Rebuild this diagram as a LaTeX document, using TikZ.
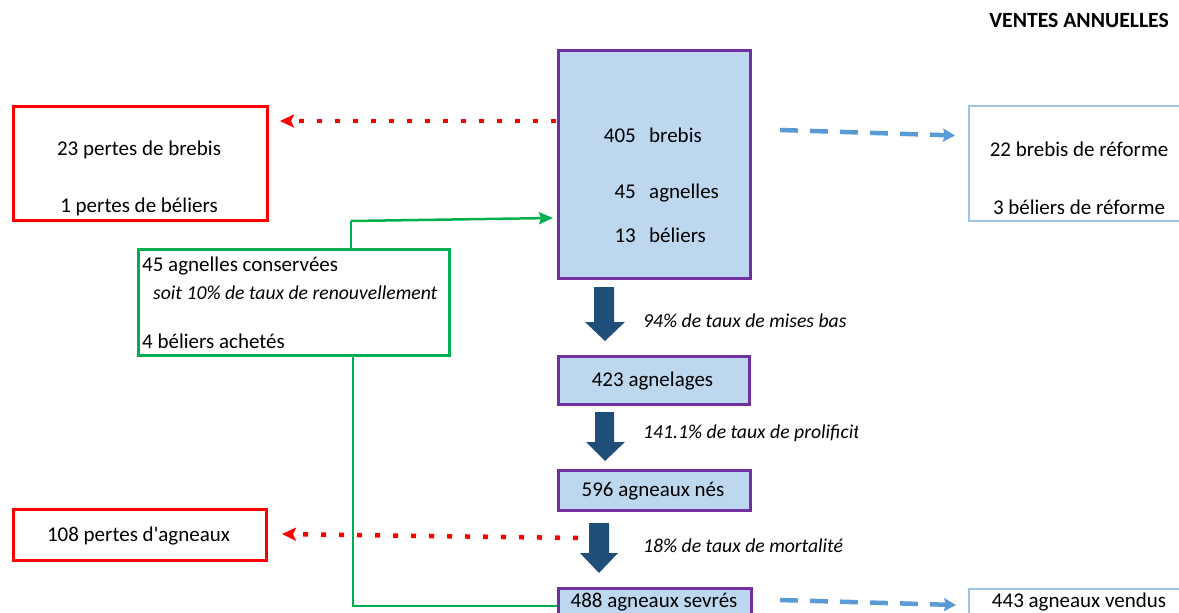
\documentclass[tikz,border=0pt]{standalone}
\usepackage{fontspec}
\setmainfont{Carlito}[Ligatures=TeXOff]
\usetikzlibrary{arrows.meta}
\definecolor{lossred}{HTML}{FF0000}
\definecolor{flockpurple}{HTML}{7030A0}
\definecolor{flockfill}{HTML}{BDD7EE}
\definecolor{salesblue}{HTML}{9DC3E6}
\definecolor{salesarrow}{HTML}{5B9BD5}
\definecolor{keepgreen}{HTML}{00B050}
\definecolor{stepblue}{HTML}{1F4E79}
\tikzset{
  txt/.style={inner sep=0pt, font=\fontsize{21}{25}\selectfont},
  itxt/.style={inner sep=0pt, font=\fontsize{19.7}{24}\selectfont\itshape},
  lossbox/.style={draw=lossred, line width=2.5pt, inner sep=0pt, anchor=north west},
  flockbox/.style={draw=flockpurple, fill=flockfill, line width=2.5pt, inner sep=0pt, anchor=north west},
  salebox/.style={draw=salesblue, line width=2pt, inner sep=0pt, anchor=north west},
  keepbox/.style={draw=keepgreen, line width=2.5pt, inner sep=0pt, anchor=north west},
  lossarrow/.style={draw=lossred, line width=4.5pt, dash pattern=on 5pt off 13pt,
    -{Stealth[length=14pt,width=13pt,inset=3pt]}},
  salearrow/.style={draw=salesarrow, line width=4.5pt, dash pattern=on 18pt off 12pt,
    -{Stealth[length=12pt,width=13pt,inset=2pt]}},
  keepline/.style={draw=keepgreen, line width=2.5pt},
  stepshape/.style={fill=stepblue},
}
\begin{document}
\begin{tikzpicture}[x=1pt,y=-1pt]
\useasboundingbox (0,0) rectangle (1179,613);
\clip (0,0) rectangle (1179,613);

% heading
\node[txt, font=\fontsize{21.7}{25}\selectfont\bfseries, anchor=mid east] (ventes) at (1169,25) {VENTES ANNUELLES};

% flock box
\node[flockbox, minimum width=192pt, minimum height=228pt] (flock) at (557,49) {};
\node[txt, anchor=mid east] (n405) at (636,140) {405};
\node[txt, anchor=mid west] (w405) at (649,140) {brebis};
\node[txt, anchor=mid east] (n45) at (636,196) {45};
\node[txt, anchor=mid west] (w45) at (649,196) {agnelles};
\node[txt, anchor=mid east] (n13) at (636,240) {13};
\node[txt, anchor=mid west] (w13) at (649,240) {béliers};

% adult losses
\node[lossbox, minimum width=254pt, minimum height=114pt] (losses) at (12,105) {};
\node[txt] (lossewes) at (139,150) {23 pertes de brebis};
\node[txt] (lossrams) at (139,207) {1 pertes de béliers};

% culled animals sold
\node[salebox, minimum width=230pt, minimum height=115pt] (cull) at (968,105) {};
\node[txt] (cullewes) at (1079,149) {22 brebis de réforme};
\node[txt] (cullrams) at (1079,207) {3 béliers de réforme};

% replacement
\node[keepbox, minimum width=311pt, minimum height=106pt] (keep) at (137,248) {};
\node[txt, anchor=mid west] (keep1) at (142,269) {45 agnelles conservées};
\node[itxt, anchor=mid west] (keep2) at (153,297) {soit 10\% de taux de renouvellement};
\node[txt, anchor=mid west] (keep3) at (142,346) {4 béliers achetés};

% production chain
\node[flockbox, minimum width=191pt, minimum height=48pt] (lambings) at (557,355) {};
\node[txt] (tlambings) at (652.5,381) {423 agnelages};
\node[flockbox, minimum width=192pt, minimum height=40pt] (born) at (557,469) {};
\node[txt] (tborn) at (653,491) {596 agneaux nés};
\node[flockbox, minimum width=193pt, minimum height=40pt] (weaned) at (557,587) {};
\node[txt] (tweaned) at (654,602.5) {488 agneaux sevrés};

% lamb losses and sales
\node[lossbox, minimum width=253pt, minimum height=51pt] (lamblosses) at (12,508) {};
\node[txt] (tlamblosses) at (138.5,536) {108 pertes d'agneaux};
\node[salebox, minimum width=230pt, minimum height=40pt] (sold) at (968,588) {};
\node[txt] (tsold) at (1079,602.5) {443 agneaux vendus};

% step arrows
\fill[stepshape] (594,287) -- (614,287) -- (614,322) -- (625,322) -- (605,341) -- (585,322) -- (594,322) -- cycle;
\fill[stepshape] (595,412) -- (614,412) -- (614,442) -- (625,442) -- (605,461) -- (586,442) -- (595,442) -- cycle;
\fill[stepshape] (589,523) -- (609,523) -- (609,553) -- (618,553) -- (599,573) -- (580,553) -- (589,553) -- cycle;

\node[itxt, anchor=mid west] (rate1) at (643,325) {94\% de taux de mises bas};
\begin{scope}
  \clip (640,415) rectangle (857,455);
  \node[itxt, anchor=mid west] (rate2) at (643,436) {141.1\% de taux de prolificité};
\end{scope}
\node[itxt, anchor=mid west] (rate3) at (643,550) {18\% de taux de mortalité};

% connectors
\coordinate (lossA) at (556,121);
\coordinate (lossB) at (280,121);
\draw[lossarrow] (lossA) -- (lossB);
\coordinate (lossC) at (578,538);
\coordinate (lossD) at (282,534);
\draw[lossarrow] (lossC) -- (lossD);

\coordinate (saleA) at (780,130);
\coordinate (saleB) at (955,135.5);
\draw[salearrow] (saleA) -- (saleB);
\coordinate (saleC) at (780,600);
\coordinate (saleD) at (956,605);
\draw[salearrow] (saleC) -- (saleD);

\coordinate (keepTop) at (351,221);
\coordinate (keepTip) at (553,218);
\draw[keepline] (351,248) -- (keepTop);
\draw[keepline, -{Stealth[length=14pt,width=12pt,inset=2pt]}] (keepTop) -- (keepTip);
\draw[keepline] (353,354) |- (weaned.west |- 0,606);
\end{tikzpicture}
\end{document}
